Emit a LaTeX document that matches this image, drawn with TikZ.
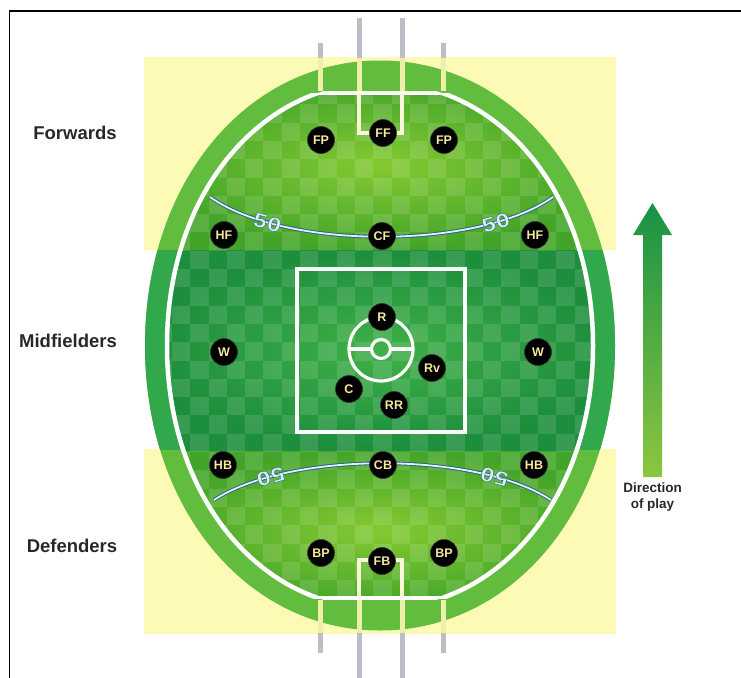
\documentclass[tikz,border=0pt]{standalone}
\usepackage{fontspec}
\setmainfont{Liberation Sans}
\newfontfamily\fiftyfont[FakeBold=1.8, FakeStretch=1.25]{Liberation Sans}
\usetikzlibrary{positioning}

\definecolor{paleyellow}{RGB}{253,250,182}
\definecolor{ringgreen}{RGB}{98,188,62}
\definecolor{ringdark}{RGB}{50,168,76}
\definecolor{fieldlight}{RGB}{132,202,50}
\definecolor{fielddark}{RGB}{66,164,40}
\definecolor{bandlight}{RGB}{64,176,72}
\definecolor{banddark}{RGB}{28,142,60}
\definecolor{arcdark}{RGB}{45,95,130}
\definecolor{arclight}{RGB}{220,242,250}
\definecolor{postgray}{RGB}{190,190,198}
\definecolor{postpale}{RGB}{238,240,170}
\definecolor{cream}{RGB}{245,232,160}
\definecolor{arrowtop}{RGB}{25,145,70}
\definecolor{arrowbottom}{RGB}{140,198,63}
\definecolor{labelgray}{RGB}{40,40,40}

\newcommand\fiftytext{\special{pdf:bcolor [0.84 0.94 0.98] [0.17 0.36 0.52]}5\kern0.5pt 0\special{pdf:ecolor}}

\tikzset{%
  oval/.style n args={4}{insert path={(#1+#3,#2) .. controls (#1+#3,#2+0.57*#4) and (#1+0.57*#3,#2+#4) .. (#1,#2+#4) .. controls (#1-0.57*#3,#2+#4) and (#1-#3,#2+0.57*#4) .. (#1-#3,#2) .. controls (#1-#3,#2-0.57*#4) and (#1-0.57*#3,#2-#4) .. (#1,#2-#4) .. controls (#1+0.57*#3,#2-#4) and (#1+#3,#2-0.57*#4) .. (#1+#3,#2) -- cycle}},
  player/.style={
    circle,
    fill=black,
    draw=black!80,
    line width=0.6pt,
    minimum size=27pt,
    inner sep=0pt,
    text=cream,
    font=\bfseries\fontsize{12.5}{12.5}\selectfont
  },
  row label/.style={text=labelgray, font=\bfseries\fontsize{18.5}{18.5}\selectfont},
  field line/.style={draw=white, line width=3.2pt},
  boundary/.style={draw=white, line width=4.5pt},
  goal line/.style={draw=postpale!45!white, line width=3.5pt},
  post/.style={draw=postgray, line width=5pt},
  post inside/.style={draw=postpale, line width=5pt},
  fifty arc/.style={draw=arcdark, double=arclight, double distance=1.8pt, line width=0.9pt},
  fifty/.style={sloped, inner sep=0pt, font=\fiftyfont\bfseries\fontsize{20}{20}\selectfont},
  dir label/.style={align=center, inner sep=0pt, text=labelgray, font=\bfseries\fontsize{13.5}{16}\selectfont},
  check/.style={fill=white, opacity=.12},
}

\begin{document}
\begin{tikzpicture}[x=1pt, y=-1pt]
  \useasboundingbox (0,0) rectangle (741,677);
  \draw[line width=1.5pt] (9.5,700) -- (9.5,11) -- (760,11);

  \fill[paleyellow] (144,57) rectangle (616,250);
  \fill[paleyellow] (144,449) rectangle (616,634);

  \fill[ringgreen] [oval={380}{345.5}{235}{285}];
  \begin{scope}
    \clip [oval={380}{345.5}{235}{285}];
    \fill[ringdark] (130,250) rectangle (630,450);
  \end{scope}

  \begin{scope}
    \clip (100,93) rectangle (660,598);
    \clip [oval={380}{345.5}{213}{263}];
    \shade[inner color=fieldlight, outer color=fielddark] (150,80) rectangle (610,250);
    \shade[inner color=fieldlight, outer color=fielddark] (150,450) rectangle (610,610);
    \shade[inner color=bandlight, outer color=banddark] (150,250) rectangle (610,450);
    \foreach \i in {0,...,25}
      \foreach \j in {0,...,28} {
        \ifodd\numexpr\i+\j\relax
          \fill[check] ({153.6+\i*18.3},{86+\j*18.3}) rectangle +(18.3,18.3);
        \fi
      }
  \end{scope}

  \begin{scope}
    \clip (100,93) rectangle (660,598);
    \draw[boundary] [oval={380}{345.5}{213}{263}];
  \end{scope}
  \begin{scope}
    \clip [oval={380}{345.5}{213}{263}];
    \draw[boundary] (200,93) -- (560,93);
    \draw[boundary] (200,598) -- (560,598);
  \end{scope}

  \foreach \x/\t in {320/43, 359/18, 402/18, 443/43} {
    \draw[post] (\x,\t) -- (\x,58);
    \draw[post inside] (\x,58) -- (\x,91);
  }
  \foreach \x/\b in {320/653, 359/690, 402/690, 443/653} {
    \draw[post inside] (\x,600) -- (\x,633);
    \draw[post] (\x,633) -- (\x,\b);
  }
  \draw[goal line] (359,93) -- (359,133) -- (402,133) -- (402,93);
  \draw[goal line] (359,598) -- (359,560) -- (402,560) -- (402,598);

  \draw[fifty arc] (210,197) .. controls (285,250) and (478,250) .. (553,197)
    node[fifty, pos=0.2] (fifty-tl) {\fiftytext}
    node[fifty, pos=0.8] (fifty-tr) {\fiftytext};
  \draw[fifty arc] (551,500) .. controls (476,451) and (289,451) .. (214,500)
    node[fifty, allow upside down, pos=0.2] (fifty-br) {\fiftytext}
    node[fifty, allow upside down, pos=0.8] (fifty-bl) {\fiftytext};

  \draw[field line] (297,269) rectangle (465,432);
  \draw[field line] (381,349) circle[radius=32];
  \draw[field line] (381,349) circle[radius=9.5];
  \draw[field line] (349,349) -- (371.5,349);
  \draw[field line] (390.5,349) -- (413,349);

  \foreach \n/\t/\x/\y in {fpl/FP/321/140, ff/FF/383/133, fpr/FP/444/140,
                          hfl/HF/224/235, cf/CF/382/236, hfr/HF/535/235,
                          wl/W/224/352, r/R/382/317, rv/Rv/432/368, c/C/349/389,
                          rr/RR/394/405, wr/W/538/352,
                          hbl/HB/223/465, cb/CB/383/465, hbr/HB/534/465,
                          bpl/BP/321/553, fb/FB/382/561, bpr/BP/444/553}
    \node[player] (\n) at (\x,\y) {\t};

  \node[row label] (forwards) at (75,133) {Forwards};
  \node[row label] (midfielders) at (68,341) {Midfielders};
  \node[row label] (defenders) at (72,546) {Defenders};

  \shade[top color=arrowtop, bottom color=arrowbottom]
    (643,477) -- (643,235) -- (633,235) -- (652.5,203) -- (672,235) -- (662,235) -- (662,477) -- cycle;
  \coordinate (arrowbase) at (652.5,477);
  \node[dir label, below=6pt of arrowbase] (direction) {Direction\\of play};
\end{tikzpicture}
\end{document}
